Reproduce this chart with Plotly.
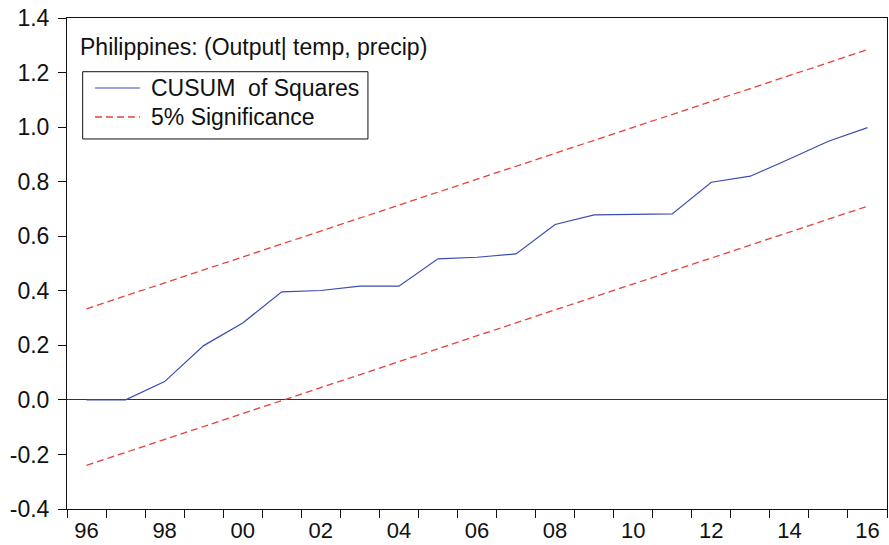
import plotly.graph_objects as go

# Annual observations, 1996-2016
years = list(range(1996, 2017))
cusum_sq = [0.000, 0.000, 0.067, 0.199, 0.282, 0.396, 0.401, 0.417, 0.417,
            0.517, 0.523, 0.535, 0.643, 0.678, 0.680, 0.682, 0.798, 0.820,
            0.883, 0.948, 0.998]

# 5% significance bounds (straight lines between the end years)
bound_years = [1996, 2016]
upper_bound = [0.334, 1.284]
lower_bound = [-0.240, 0.710]

y_ticks = [-0.4, -0.2, 0.0, 0.2, 0.4, 0.6, 0.8, 1.0, 1.2, 1.4]
x_label_years = list(range(1996, 2017, 2))
x_label_text = [f"{y % 100:02d}" for y in x_label_years]

legend_labels = ["CUSUM  of Squares", "5% Significance"]
title_text = "Philippines: (Output| temp, precip)"

FONT = "Liberation Sans, Arial, sans-serif"
FS = 23
INK = "#111111"
BLUE = "#3a4cad"
RED = "#e8403a"
DASH = "7px,4px"

fig = go.Figure()
fig.add_trace(go.Scatter(
    x=years, y=cusum_sq, mode="lines", name=legend_labels[0],
    line=dict(color=BLUE, width=1.2), showlegend=False,
))
for bound in (upper_bound, lower_bound):
    fig.add_trace(go.Scatter(
        x=bound_years, y=bound, mode="lines", name=legend_labels[1],
        line=dict(color=RED, width=1.3, dash=DASH), showlegend=False,
    ))

# Boxed key in the upper-left corner of the plot area
shapes = [
    dict(type="rect", xref="paper", yref="paper",
         x0=0.0191, x1=0.367, y0=0.7536, y1=0.8906,
         line=dict(color=INK, width=1), fillcolor="white", layer="above"),
    dict(type="line", xref="paper", yref="paper",
         x0=0.0341, x1=0.0890, y0=0.8574, y1=0.8574,
         line=dict(color=BLUE, width=1.2), layer="above"),
    dict(type="line", xref="paper", yref="paper",
         x0=0.0341, x1=0.0890, y0=0.7984, y1=0.7984,
         line=dict(color=RED, width=1.3, dash=DASH), layer="above"),
]
annotations = [
    dict(text=title_text, xref="paper", yref="paper", x=0.0135, y=0.9409,
         xanchor="left", yanchor="middle", showarrow=False,
         font=dict(family=FONT, size=FS, color=INK)),
    dict(text=legend_labels[0], xref="paper", yref="paper", x=0.1005, y=0.8574,
         xanchor="left", yanchor="middle", showarrow=False,
         font=dict(family=FONT, size=FS, color=INK)),
    dict(text=legend_labels[1], xref="paper", yref="paper", x=0.1005, y=0.7984,
         xanchor="left", yanchor="middle", showarrow=False,
         font=dict(family=FONT, size=FS, color=INK)),
]

fig.update_layout(
    width=889, height=545,
    margin=dict(l=67, r=2, t=18, b=36),
    paper_bgcolor="white", plot_bgcolor="white",
    font=dict(family=FONT, size=FS, color=INK),
    showlegend=False,
    shapes=shapes,
    annotations=annotations,
)

fig.update_xaxes(
    range=[1995.5, 2016.5], automargin=False,
    tickmode="array", tickvals=x_label_years, ticktext=x_label_text,
    ticks="", ticklabelstandoff=2, showgrid=False, zeroline=False,
    showline=True, linecolor=INK, linewidth=1, mirror=True,
    minor=dict(tickmode="linear", tick0=1995.5, dtick=1, ticks="outside",
               ticklen=8, tickcolor=INK, tickwidth=1, showgrid=False),
    tickfont=dict(family=FONT, size=22, color=INK),
)
fig.update_yaxes(
    range=[-0.4, 1.4], automargin=False,
    tickmode="array", tickvals=y_ticks, ticktext=[f"{v:.1f}" for v in y_ticks],
    ticks="outside", ticklen=8, tickcolor=INK, tickwidth=1,
    ticklabelstandoff=4,
    showgrid=False,
    zeroline=True, zerolinecolor="#333333", zerolinewidth=1.2,
    showline=True, linecolor=INK, linewidth=1, mirror=True,
    tickfont=dict(family=FONT, size=FS, color=INK),
)

fig.write_html("out.html")
